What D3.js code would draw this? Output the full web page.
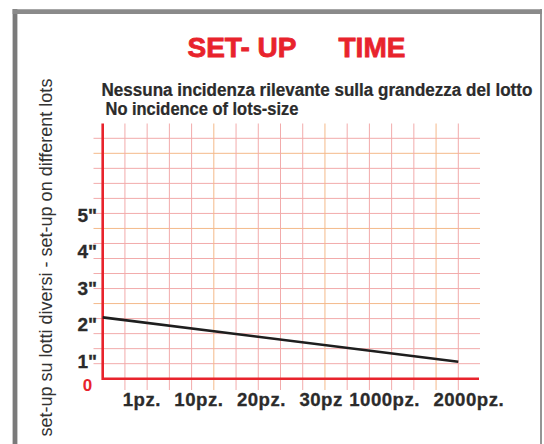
<!DOCTYPE html>
<html>
<head>
<meta charset="utf-8">
<script src="https://cdn.jsdelivr.net/npm/d3@7"></script>
<style>
  body { margin: 0; background: #fff; }
  text { font-family: "Liberation Sans", Arial, sans-serif; }
</style>
</head>
<body>
<svg width="544" height="444"></svg>
<script>
// data
const lotLabels = ['1pz.', '10pz.', '20pz.', '30pz', '1000pz.', '2000pz.'];
const timeTicks = [1, 2, 3, 4, 5];
const timeTickLabels = ['1"', '2"', '3"', '4"', '5"'];
const lineGrid = [0, 16];          // position along the squared paper
const lineTime = [2.19, 0.97];     // seconds

const svg = d3.select('svg');
const red = '#e8232c';
const ink = '#2b2b2b';

// frame
svg.append('line').attr('x1', 15).attr('x2', 15).attr('y1', 9).attr('y2', 444)
  .attr('stroke', '#7a7a7a').attr('stroke-width', 4.8);
svg.append('line').attr('x1', 12.6).attr('x2', 542).attr('y1', 11.6).attr('y2', 11.6)
  .attr('stroke', '#8a8a8a').attr('stroke-width', 4.8);
svg.append('line').attr('x1', 541).attr('x2', 541).attr('y1', 9).attr('y2', 444)
  .attr('stroke', '#8a8a8a').attr('stroke-width', 1.8);

// squared paper scales (16 x 16 cells)
const gx = d3.scaleLinear().domain([0, 16]).range([102.7, 458.3]);
const gy = d3.scaleLinear().domain([0, 16]).range([378.7, 138.3]);
// seconds scale used by tick labels and the line
const ty = d3.scaleLinear().domain([0, 5]).range([397.1, 215]);

const gridColor = i => (i % 5 === 0 && i > 0) ? '#f4b98a' : '#f2abab';

svg.append('g').selectAll('line')
  .data(d3.range(1, 17))
  .enter().append('line')
  .attr('x1', 93.5).attr('x2', 480)
  .attr('y1', d => gy(d)).attr('y2', d => gy(d))
  .attr('stroke', gridColor).attr('stroke-width', 1);

svg.append('g').selectAll('line')
  .data(d3.range(1, 17))
  .enter().append('line')
  .attr('x1', d => gx(d)).attr('x2', d => gx(d))
  .attr('y1', 123.5).attr('y2', 390)
  .attr('stroke', gridColor).attr('stroke-width', 1);

// red axes
svg.append('path')
  .attr('d', `M${gx(0)},123.5 L${gx(0)},${gy(0)} L479,${gy(0)}`)
  .attr('fill', 'none').attr('stroke', red).attr('stroke-width', 2.6);

// the set-up line
const pts = lineGrid.map((g, i) => [gx(g), ty(lineTime[i])]);
svg.append('path')
  .attr('d', d3.line()(pts))
  .attr('fill', 'none').attr('stroke', '#1e1e1e').attr('stroke-width', 2.6);

// y tick labels
svg.append('g').selectAll('text')
  .data(timeTicks)
  .enter().append('text')
  .attr('x', 97).attr('y', d => ty(d))
  .attr('dy', '0.36em')
  .attr('text-anchor', 'end')
  .attr('font-weight', 'bold').attr('font-size', 19).attr('fill', ink)
  .attr('stroke', ink).attr('stroke-width', 0.3)
  .text((d, i) => timeTickLabels[i]);

svg.append('text')
  .attr('x', 87.5).attr('y', 391)
  .attr('text-anchor', 'middle')
  .attr('font-weight', 'bold').attr('font-size', 17).attr('fill', red)
  .text('0');

// x labels, set in a row like typed text
const xl = svg.append('g');
let cx = 122.7;
lotLabels.forEach((l, i) => {
  const t = xl.append('text')
    .attr('x', cx).attr('y', 405.5)
    .attr('font-weight', 'bold').attr('font-size', 18.6).attr('fill', ink)
    .attr('stroke', ink).attr('stroke-width', 0.3)
    .attr('letter-spacing', 0.5)
    .text(l);
  const w = t.node().getComputedTextLength();
  const gap = lotLabels[i + 1] === '1000pz.' ? 6.5 : 13.5;
  cx += w + gap;
});

// titles
const title = svg.append('text').attr('y', 56.6)
  .attr('font-weight', 'bold').attr('font-size', 28).attr('fill', red)
  .attr('stroke', red).attr('stroke-width', 0.8);
title.append('tspan').attr('x', 187.5).text('SET- UP');
title.append('tspan').attr('x', 338.5).text('TIME');

// condensed text: squeeze horizontally to the width seen in the picture
function squeezed(x, y, width, str, size, bold) {
  const g = svg.append('g');
  const t = g.append('text')
    .attr('font-weight', bold ? 'bold' : 'normal').attr('font-size', size)
    .attr('fill', ink).text(str);
  if (bold) t.attr('stroke', ink).attr('stroke-width', 0.25);
  const k = width / t.node().getComputedTextLength();
  g.attr('transform', `translate(${x},${y}) scale(${k},1)`);
  return g;
}

squeezed(101.5, 96, 431, 'Nessuna incidenza rilevante sulla grandezza del lotto', 18.6, true);
squeezed(105.5, 115, 193, 'No incidence of lots-size', 18.6, true);

const yt = svg.append('g').attr('transform', 'translate(52,436.5) rotate(-90)');
const ytt = yt.append('text')
  .attr('font-size', 17.5).attr('fill', '#333')
  .text('set-up su lotti diversi - set-up on different lots');
ytt.attr('transform', `scale(${358 / ytt.node().getComputedTextLength()},1)`);
</script>
</body>
</html>
